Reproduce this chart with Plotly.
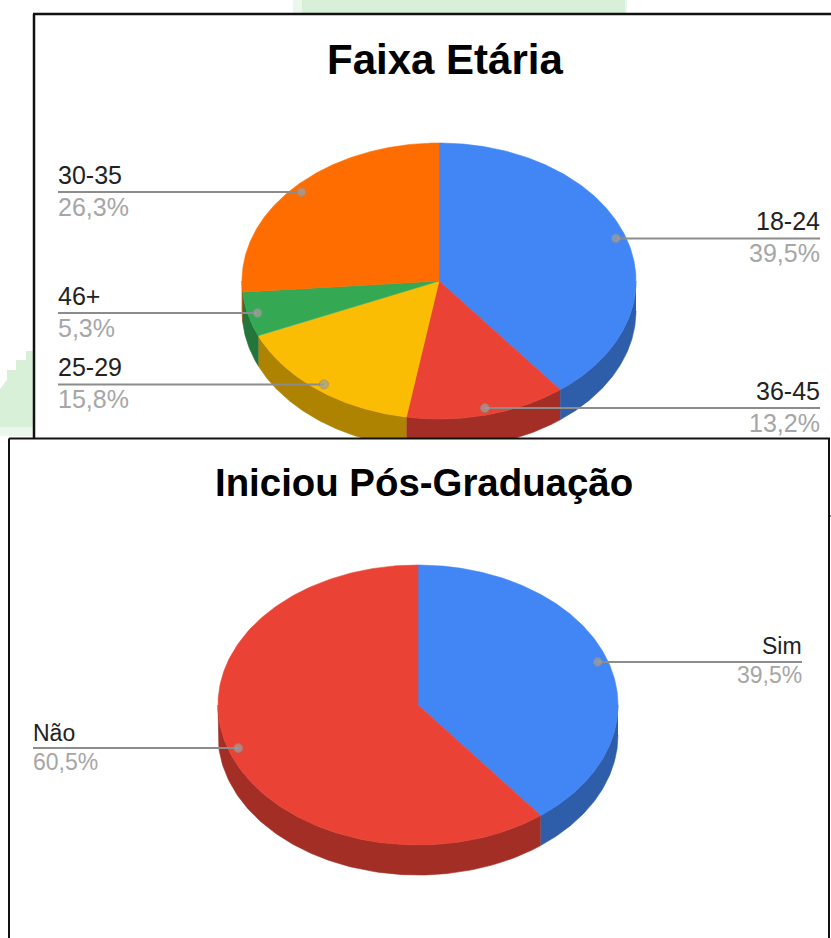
import numpy as np
import plotly.graph_objects as go

# ---- data ----
faixa_title = "Faixa Etária"
faixa_labels = ["18-24", "36-45", "25-29", "46+", "30-35"]
faixa_values = [39.5, 13.2, 15.8, 5.3, 26.3]
faixa_colors = ["#4285f4", "#ea4335", "#fbbc04", "#34a853", "#ff6d01"]

pos_title = "Iniciou Pós-Graduação"
pos_labels = ["Sim", "Não"]
pos_values = [39.5, 60.5]
pos_colors = ["#4285f4", "#ea4335"]

W, H = 831, 938
FONT = "Liberation Sans"


def darker(hexcol, f=0.7):
    r, g, b = [int(hexcol[i:i + 2], 16) for i in (1, 3, 5)]
    return f"rgb({int(r * f)},{int(g * f)},{int(b * f)})"


fig = go.Figure()
annotations = []


def poly(xs, ys, fill, line=None, lw=0):
    fig.add_trace(go.Scatter(x=xs, y=ys, mode="lines", fill="toself", fillcolor=fill,
                             line=dict(color=line or fill, width=lw if line else 0.6),
                             hoverinfo="skip", showlegend=False))


def text(x, y, s, size, color, anchor="center", bold=False):
    annotations.append(dict(x=x, y=y, xref="x", yref="y", text=f"<b>{s}</b>" if bold else s,
                            showarrow=False, xanchor=anchor, yanchor="middle",
                            font=dict(family=FONT, size=size, color=color),
                            borderpad=0, borderwidth=0))


def pie3d(labels, values, colors, cx, cy, rx, ry, depth, left_x, right_x, fsize, dy_up, dy_dn):
    vals = np.array(values, float)
    edges = np.concatenate([[0], np.cumsum(vals) / vals.sum() * 2 * np.pi])
    ex = lambda t: cx + rx * np.sin(t)
    ey = lambda t: cy - ry * np.cos(t)
    # side walls (front half only)
    for i, col in enumerate(colors):
        a, b = max(edges[i], np.pi / 2), min(edges[i + 1], 3 * np.pi / 2)
        if b > a:
            t = np.linspace(a, b, 120)
            poly(np.r_[ex(t), ex(t[::-1])], np.r_[ey(t), ey(t[::-1]) + depth], darker(col))
    # top faces
    for i, col in enumerate(colors):
        t = np.linspace(edges[i], edges[i + 1], 240)
        poly(np.r_[cx, ex(t), cx], np.r_[cy, ey(t), cy], col)
    # leaders and labels
    for i, lab in enumerate(labels):
        mid = (edges[i] + edges[i + 1]) / 2
        dx, dy = cx + 0.95 * rx * np.sin(mid), cy - 0.95 * ry * np.cos(mid)
        right = np.sin(mid) > 0
        end = right_x if right else left_x
        fig.add_trace(go.Scatter(x=[end, dx], y=[dy, dy], mode="lines+markers",
                                 line=dict(color="#8c8c8c", width=2),
                                 marker=dict(size=[0, 9], color="#a0a0a0"),
                                 hoverinfo="skip", showlegend=False))
        anchor = "right" if right else "left"
        pct = f"{values[i]:.1f}%".replace(".", ",")
        text(end, dy - dy_up, lab, fsize, "#222222", anchor)
        text(end, dy + dy_dn, pct, fsize, "#a6a6a6", anchor)


# panel 1 (open at the right)
pie3d(faixa_labels, faixa_values, faixa_colors, 439, 281, 197, 138, 30, 58, 820, 25, 17, 15)
text(445, 59, faixa_title, 42, "#000000", bold=True)

# panel 2 sits on top of panel 1 and hides its lower edge
poly([9, 829, 829, 9, 9], [438.5, 438.5, 945, 945, 438.5], "#ffffff", "#111111", 2)
pie3d(pos_labels, pos_values, pos_colors, 418, 705, 200, 140, 30, 33, 802, 23, 15.5, 13.5)
text(423.5, 482, pos_title, 38.4, "#000000", bold=True)

green = "#d8efd8"
shapes = [
    dict(type="path", layer="below", fillcolor="#eaf7ea", line_width=0,
         path="M293,0 L627,0 L627,14 L293,14 Z"),
    dict(type="path", layer="below", fillcolor=green, line_width=0,
         path="M302,0 L625,0 L625,14 L302,14 Z"),
    dict(type="path", layer="below", fillcolor=green, line_width=0,
         path="M33,351 L26,351 L26,360 L16,360 L16,370 L7,370 L7,380 L0,389 L0,427 L33,427 Z"),
    dict(type="path", layer="below", fillcolor="#eaf7ea", line_width=0,
         path="M0,427 L33,427 L33,436 L0,436 Z"),
    # panel 1 border
    dict(type="line", x0=34, x1=34, y0=14, y1=438, line=dict(color="#111111", width=2.5)),
    dict(type="line", x0=33, x1=831, y0=14, y1=14, line=dict(color="#111111", width=2.5)),
    # little tick right of panel 2
    dict(type="line", x0=829, x1=831, y0=516, y1=516, line=dict(color="#111111", width=1)),
]

fig.update_layout(
    width=W, height=H, margin=dict(l=0, r=0, t=0, b=0),
    paper_bgcolor="white", plot_bgcolor="white", showlegend=False,
    xaxis=dict(range=[0, W], visible=False, fixedrange=True),
    yaxis=dict(range=[H, 0], visible=False, fixedrange=True),
    annotations=annotations, shapes=shapes,
)
fig.write_html("out.html", config=dict(displayModeBar=False),
               post_script="document.body.style.margin='0';document.body.style.overflow='hidden';")
